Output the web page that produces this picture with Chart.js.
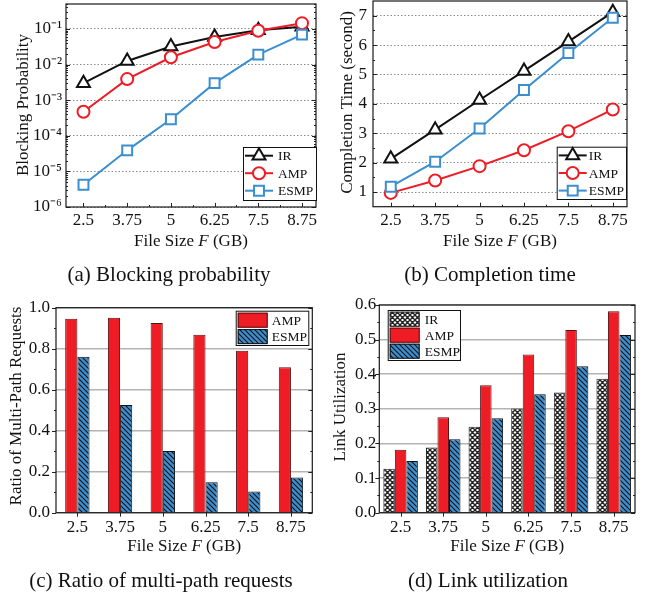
<!DOCTYPE html>
<html><head><meta charset="utf-8">
<script src="https://cdn.jsdelivr.net/npm/chart.js@4.4.1/dist/chart.umd.min.js"></script>
<style>
html,body{margin:0;padding:0;background:#fff;}
body{width:645px;height:595px;position:relative;overflow:hidden;}
canvas{position:absolute;left:0;top:-30px;}
.cap{position:absolute;font-family:'Liberation Serif','Times New Roman',serif;font-size:21px;color:#111;white-space:nowrap;transform:translate(-50%,-50%);line-height:1;}
</style></head><body>
<canvas id="cA" width="645" height="625"></canvas>
<canvas id="cB" width="645" height="625"></canvas>
<canvas id="cC" width="645" height="625"></canvas>
<canvas id="cD" width="645" height="625"></canvas>
<div class="cap" style="left:169px;top:274px">(a) Blocking probability</div>
<div class="cap" style="left:490px;top:274px">(b) Completion time</div>
<div class="cap" style="left:161px;top:580px">(c) Ratio of multi-path requests</div>
<div class="cap" style="left:488px;top:580px">(d) Link utilization</div>
<script>
// ---------- data ----------
const fileSizes = [2.5, 3.75, 5, 6.25, 7.5, 8.75];
const xTickLabels = ['2.5', '3.75', '5', '6.25', '7.5', '8.75'];
const seriesNames = ['IR', 'AMP', 'ESMP'];

const blockIR   = [0.003, 0.0126, 0.032, 0.059, 0.092, 0.115];
const blockAMP  = [0.00047, 0.0039, 0.016, 0.043, 0.089, 0.145];
const blockESMP = [4.2e-6, 3.9e-5, 2.9e-4, 0.003, 0.019, 0.069];

const timeIR   = [2.13, 3.12, 4.13, 5.12, 6.12, 7.12];
const timeAMP  = [0.97, 1.39, 1.88, 2.42, 3.07, 3.81];
const timeESMP = [1.18, 2.03, 3.16, 4.47, 5.73, 6.93];

const ratioAMP  = [0.946, 0.951, 0.925, 0.868, 0.790, 0.709];
const ratioESMP = [0.761, 0.525, 0.301, 0.148, 0.104, 0.172];

const utilIR   = [0.127, 0.188, 0.248, 0.301, 0.347, 0.387];
const utilAMP  = [0.182, 0.276, 0.368, 0.457, 0.528, 0.582];
const utilESMP = [0.149, 0.212, 0.273, 0.342, 0.423, 0.513];

const logTickValues = [1e-6, 1e-5, 1e-4, 1e-3, 1e-2, 1e-1];
const logTickLabels = ['10⁻⁶', '10⁻⁵', '10⁻⁴', '10⁻³', '10⁻²', '10⁻¹'];
const timeTickValues = [1, 2, 3, 4, 5, 6, 7];
const timeTickLabels = ['1', '2', '3', '4', '5', '6', '7'];
const ratioTickValues = [0, 0.2, 0.4, 0.6, 0.8, 1.0];
const ratioTickLabels = ['0.0', '0.2', '0.4', '0.6', '0.8', '1.0'];
const utilTickValues = [0, 0.1, 0.2, 0.3, 0.4, 0.5, 0.6];
const utilTickLabels = ['0.0', '0.1', '0.2', '0.3', '0.4', '0.5', '0.6'];

const xTitle = ['File Size ', 'F', ' (GB)'];
const yTitles = ['Blocking Probability', 'Completion Time (second)', 'Ratio of Multi-Path Requests', 'Link Utilization'];

// ---------- style ----------
const OFF = 30, CW = 645, CH = 625;
const FONT = "'Liberation Serif','Times New Roman',serif";
const C_IR = '#111111', C_AMP = '#ee1c25', C_ESMP = '#3b8ed0';

function hatchPattern(bg, fg, size, lw, cross) {
  const c = document.createElement('canvas');
  c.width = c.height = size;
  const g = c.getContext('2d');
  g.fillStyle = bg; g.fillRect(0, 0, size, size);
  g.strokeStyle = fg; g.lineWidth = lw;
  g.beginPath();
  g.moveTo(-2, -2); g.lineTo(size + 2, size + 2);
  g.moveTo(-2, size - 2); g.lineTo(2, size + 2);
  g.moveTo(size - 2, -2); g.lineTo(size + 2, 2);
  if (cross) {
    g.moveTo(size + 2, -2); g.lineTo(-2, size + 2);
    g.moveTo(2, -2); g.lineTo(-2, 2);
    g.moveTo(size + 2, size - 2); g.lineTo(size - 2, size + 2);
  }
  g.stroke();
  return g.createPattern(c, 'repeat');
}
const PAT_ESMP = hatchPattern(C_ESMP, '#111', 5, 1.1, false);
const PAT_IR = hatchPattern('#ffffff', '#222', 5, 1.4, true);

function drawMarker(ctx, style, r, x, y) {
  ctx.beginPath();
  if (style === 'triangle') {
    let rad = 0;
    ctx.moveTo(x + Math.sin(rad) * r, y - Math.cos(rad) * r);
    rad += 2 * Math.PI / 3;
    ctx.lineTo(x + Math.sin(rad) * r, y - Math.cos(rad) * r);
    rad += 2 * Math.PI / 3;
    ctx.lineTo(x + Math.sin(rad) * r, y - Math.cos(rad) * r);
    ctx.closePath();
  } else if (style === 'rect') {
    const s = Math.SQRT1_2 * r;
    ctx.rect(x - s, y - s, 2 * s, 2 * s);
  } else {
    ctx.arc(x, y, r, 0, Math.PI * 2);
  }
  ctx.fill(); ctx.stroke();
}

const framePlugin = {
  id: 'frame',
  afterDraw(chart, args, o) {
    if (!o || !o.on) return;
    const ctx = chart.ctx, a = chart.chartArea, xs = chart.scales.x, ys = chart.scales.y;
    ctx.save();
    // ticks
    ctx.strokeStyle = '#222'; ctx.lineWidth = 1;
    ctx.beginPath();
    const seg = (x1, y1, x2, y2) => { ctx.moveTo(x1, y1); ctx.lineTo(x2, y2); };
    const lo = o.leftOut ? -1 : 1;
    (o.yMajor || []).forEach(v => { const y = Math.round(ys.getPixelForValue(v)) + 0.5; seg(a.left, y, a.left + lo * 4, y); seg(a.right, y, a.right - 4, y); });
    (o.yMinor || []).forEach(v => { const y = Math.round(ys.getPixelForValue(v)) + 0.5; seg(a.left, y, a.left + lo * 2, y); seg(a.right, y, a.right - 2, y); });
    const bo = o.bottomOut ? 1 : -1;
    (o.xMajor || []).forEach(v => { const x = Math.round(xs.getPixelForValue(v)) + 0.5; seg(x, a.bottom, x, a.bottom + bo * 4); });
    (o.xMinor || []).forEach(v => { const x = Math.round(xs.getPixelForValue(v)) + 0.5; seg(x, a.bottom, x, a.bottom + bo * 2); });
    ctx.stroke();
    // frame
    ctx.strokeStyle = '#1a1a1a'; ctx.lineWidth = 1.2;
    ctx.strokeRect(a.left, a.top, a.right - a.left, a.bottom - a.top);
    // x title with italic F
    ctx.fillStyle = '#111'; ctx.textBaseline = 'middle'; ctx.textAlign = 'left';
    const fN = '17px ' + FONT, fI = 'italic 17px ' + FONT;
    const fonts = [fN, fI, fN];
    let tw = 0;
    xTitle.forEach((t, i) => { ctx.font = fonts[i]; tw += ctx.measureText(t).width; });
    let tx = (a.left + a.right) / 2 + (o.xTitleDx || 0) - tw / 2;
    const ty = o.xTitleY + OFF;
    xTitle.forEach((t, i) => { ctx.font = fonts[i]; ctx.fillText(t, tx, ty); tx += ctx.measureText(t).width; });
    // y title
    ctx.save();
    ctx.translate(o.yTitleX, o.yTitleY + OFF);
    ctx.rotate(-Math.PI / 2);
    ctx.textAlign = 'center'; ctx.font = fN;
    ctx.fillText(o.yTitle, 0, 0);
    ctx.restore();
    // legend
    const lg = o.legend;
    if (lg) {
      const bx = lg.x, by = lg.y + OFF;
      ctx.fillStyle = '#fff'; ctx.fillRect(bx, by, lg.w, lg.h);
      ctx.strokeStyle = '#111'; ctx.lineWidth = 1; ctx.strokeRect(bx + 0.5, by + 0.5, lg.w, lg.h);
      chart.data.datasets.forEach((ds, i) => {
        const cy = by + lg.first + i * lg.step;
        if (lg.type === 'line') {
          ctx.strokeStyle = ds.borderColor; ctx.lineWidth = 2;
          ctx.beginPath(); ctx.moveTo(bx + 2, cy); ctx.lineTo(bx + 30, cy); ctx.stroke();
          ctx.fillStyle = '#fff';
          drawMarker(ctx, ds.pointStyle, ds.pointRadius, bx + 16, cy);
        } else {
          ctx.fillStyle = ds.backgroundColor;
          ctx.fillRect(bx + 2, cy - 7.5, 30, 15);
          ctx.strokeStyle = ds.borderColor; ctx.lineWidth = 1;
          ctx.strokeRect(bx + 2.5, cy - 7, 29, 14);
        }
        ctx.fillStyle = '#111'; ctx.font = '13.5px ' + FONT; ctx.textAlign = 'left'; ctx.textBaseline = 'middle';
        ctx.fillText(ds.label, bx + lg.tx, cy + 1);
      });
    }
    ctx.restore();
  }
};
Chart.register(framePlugin);

function tickFont() { return { family: FONT, size: 17 }; }

function baseOptions(p) {
  return {
    responsive: false, animation: false, events: [],
    layout: { padding: { left: 0, top: p.T + OFF, right: CW - p.R, bottom: CH - (p.B + OFF) - p.xh } },
    plugins: { legend: { display: false }, tooltip: { enabled: false }, frame: p.frame },
    scales: {}
  };
}

function lineDatasets(ir, amp, esmp) {
  const mk = (name, vals, color, style, r, order) => ({
    label: name, data: fileSizes.map((x, i) => ({ x: x, y: vals[i] })),
    borderColor: color, backgroundColor: '#fff', borderWidth: 2,
    pointStyle: style, pointRadius: r, pointBorderWidth: 2, pointBackgroundColor: '#fff',
    pointBorderColor: color, tension: 0, order: order
  });
  return [mk(seriesNames[0], ir, C_IR, 'triangle', 7.5, 3),
          mk(seriesNames[1], amp, C_AMP, 'circle', 6, 2),
          mk(seriesNames[2], esmp, C_ESMP, 'rect', 7, 1)];
}

function xLinear(p) {
  return {
    type: 'linear', min: 2.0, max: 9.15,
    afterBuildTicks: s => { s.ticks = fileSizes.map(v => ({ value: v })); },
    afterFit: s => { s.height = p.xh; },
    ticks: { callback: (v, i) => xTickLabels[i], font: tickFont(), color: '#111', padding: p.xpad, autoSkip: false, maxRotation: 0 },
    grid: { display: false, drawTicks: false }, border: { display: false }
  };
}

const midpoints = fileSizes.slice(1).map((v, i) => (v + fileSizes[i]) / 2);
const logMinor = [];
logTickValues.forEach(d => { for (let k = 2; k <= 9; k++) { if (k * d <= 0.5) logMinor.push(k * d); } });

// ---------- (a) ----------
(function () {
  const p = { L: 66, T: 4, R: 316, B: 207, xh: 48, xpad: 3.5 };
  p.frame = { on: true, yMajor: logTickValues, yMinor: logMinor, xMajor: fileSizes, xMinor: midpoints,
    xTitleY: 241.7, yTitleX: 24, yTitleY: 105, yTitle: yTitles[0],
    legend: { type: 'line', x: 243, y: 147, w: 73, h: 53, first: 8.7, step: 17.5, tx: 35 } };
  const o = baseOptions(p);
  o.scales.x = xLinear(p);
  o.scales.y = {
    type: 'logarithmic', min: 1e-6, max: 0.5,
    afterBuildTicks: s => { s.ticks = logTickValues.map(v => ({ value: v })); },
    afterFit: s => { s.width = p.L; },
    ticks: { callback: (v, i) => logTickLabels[i], font: tickFont(), color: '#111', padding: 4 },
    grid: { color: '#8c8c8c', lineWidth: 1, drawTicks: false }, border: { display: false, dash: [1.5, 2] }
  };
  new Chart(document.getElementById('cA'), { type: 'line', data: { datasets: lineDatasets(blockIR, blockAMP, blockESMP) }, options: o });
})();

// ---------- (b) ----------
(function () {
  const p = { L: 373, T: 1, R: 627, B: 206.7, xh: 48, xpad: 3.5 };
  p.frame = { on: true, yMajor: timeTickValues, yMinor: [1.5, 2.5, 3.5, 4.5, 5.5, 6.5], xMajor: fileSizes, xMinor: midpoints,
    xTitleY: 241.7, yTitleX: 348, yTitleY: 102.5, yTitle: yTitles[1],
    legend: { type: 'line', x: 556.7, y: 146.7, w: 69.3, h: 52.3, first: 8.7, step: 17.6, tx: 32 } };
  const o = baseOptions(p);
  o.scales.x = xLinear(p);
  o.scales.y = {
    type: 'linear', min: 0.5, max: 7.5,
    afterBuildTicks: s => { s.ticks = timeTickValues.map(v => ({ value: v })); },
    afterFit: s => { s.width = p.L; },
    ticks: { callback: (v, i) => timeTickLabels[i], font: tickFont(), color: '#111', padding: 6 },
    grid: { color: '#8c8c8c', lineWidth: 1, drawTicks: false }, border: { display: false, dash: [1.5, 2] }
  };
  new Chart(document.getElementById('cB'), { type: 'line', data: { datasets: lineDatasets(timeIR, timeAMP, timeESMP) }, options: o });
})();

// ---------- bar helpers ----------
function xCategory(p) {
  return {
    type: 'category', offset: true,
    afterFit: s => { s.height = p.xh; },
    ticks: { font: tickFont(), color: '#111', padding: p.xpad, autoSkip: false, maxRotation: 0 },
    grid: { display: false, drawTicks: false }, border: { display: false }
  };
}

// ---------- (c) ----------
(function () {
  const p = { L: 56, T: 307.7, R: 312.3, B: 512.7, xh: 48, xpad: 4.5 };
  p.frame = { on: true, leftOut: true, bottomOut: true, yMajor: ratioTickValues, yMinor: [0.1, 0.3, 0.5, 0.7, 0.9],
    xMajor: [0, 1, 2, 3, 4, 5], xTitleY: 546.7, yTitleX: 17, yTitleY: 406, yTitle: yTitles[2],
    legend: { type: 'bar', x: 235.7, y: 310.7, w: 72.6, h: 34.3, first: 9.5, step: 16.4, tx: 36 } };
  const o = baseOptions(p);
  o.scales.x = xCategory(p);
  o.scales.y = {
    type: 'linear', min: 0, max: 1.0,
    afterBuildTicks: s => { s.ticks = ratioTickValues.map(v => ({ value: v })); },
    afterFit: s => { s.width = p.L; },
    ticks: { callback: (v, i) => ratioTickLabels[i], font: tickFont(), color: '#111', padding: 6 },
    grid: { color: '#b4b4b4', lineWidth: 1.6, drawTicks: false }, border: { display: false }
  };
  new Chart(document.getElementById('cC'), {
    type: 'bar',
    data: { labels: xTickLabels, datasets: [
      { label: seriesNames[1], data: ratioAMP, backgroundColor: C_AMP, borderColor: '#5a1010', borderWidth: 1, categoryPercentage: 0.57, barPercentage: 1 },
      { label: seriesNames[2], data: ratioESMP, backgroundColor: PAT_ESMP, borderColor: '#111', borderWidth: 1, categoryPercentage: 0.57, barPercentage: 1 }
    ] },
    options: o
  });
})();

// ---------- (d) ----------
(function () {
  const p = { L: 379.3, T: 305, R: 635, B: 512.7, xh: 48, xpad: 4.5 };
  p.frame = { on: true, leftOut: true, bottomOut: true, yMajor: utilTickValues, yMinor: [0.05, 0.15, 0.25, 0.35, 0.45, 0.55],
    xMajor: [0, 1, 2, 3, 4, 5], xTitleY: 546.7, yTitleX: 341, yTitleY: 407, yTitle: yTitles[3],
    legend: { type: 'bar', x: 387.7, y: 310, w: 72.3, h: 50, first: 9.2, step: 16, tx: 37 } };
  const o = baseOptions(p);
  o.scales.x = xCategory(p);
  o.scales.y = {
    type: 'linear', min: 0, max: 0.6,
    afterBuildTicks: s => { s.ticks = utilTickValues.map(v => ({ value: v })); },
    afterFit: s => { s.width = p.L; },
    ticks: { callback: (v, i) => utilTickLabels[i], font: tickFont(), color: '#111', padding: 3 },
    grid: { color: '#b4b4b4', lineWidth: 1.6, drawTicks: false }, border: { display: false }
  };
  new Chart(document.getElementById('cD'), {
    type: 'bar',
    data: { labels: xTickLabels, datasets: [
      { label: seriesNames[0], data: utilIR, backgroundColor: PAT_IR, borderColor: '#222', borderWidth: 1, categoryPercentage: 0.81, barPercentage: 1 },
      { label: seriesNames[1], data: utilAMP, backgroundColor: C_AMP, borderColor: '#5a1010', borderWidth: 1, categoryPercentage: 0.81, barPercentage: 1 },
      { label: seriesNames[2], data: utilESMP, backgroundColor: PAT_ESMP, borderColor: '#111', borderWidth: 1, categoryPercentage: 0.81, barPercentage: 1 }
    ] },
    options: o
  });
})();
</script>
</body></html>
